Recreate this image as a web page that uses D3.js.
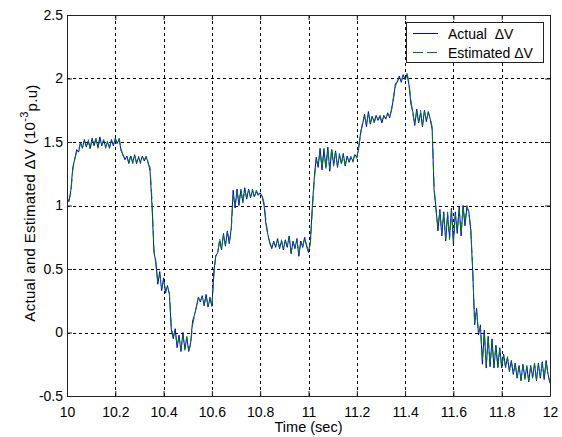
<!DOCTYPE html>
<html>
<head>
<meta charset="utf-8">
<script src="https://cdn.jsdelivr.net/npm/d3@7"></script>
<style>
  body { margin: 0; background: #fff; }
  text { font-family: "Liberation Sans", Arial, sans-serif; fill: #000; }
</style>
</head>
<body>
<div id="chart"></div>
<script>
// Sample spacing of the recorded signal (s)
const tStart = 10, tStep = 0.008;

// Actual dV (10^-3 p.u)
const actual = [
  1.06,1.03,1.12,1.30,1.36,1.44,1.42,1.50,1.45,1.52,
  1.46,1.51,1.45,1.53,1.47,1.52,1.46,1.54,1.47,1.51,
  1.46,1.50,1.45,1.52,1.47,1.53,1.49,1.52,1.43,1.40,
  1.36,1.39,1.33,1.39,1.34,1.40,1.33,1.38,1.34,1.39,
  1.35,1.38,1.34,1.27,1.00,0.63,0.56,0.38,0.48,0.33,
  0.43,0.31,0.37,0.30,0.02,-0.05,0.03,-0.12,-0.02,-0.15,
  0.00,-0.13,-0.04,-0.15,-0.08,0.09,0.14,0.20,0.28,0.24,
  0.29,0.21,0.30,0.20,0.27,0.21,0.48,0.60,0.63,0.72,
  0.65,0.78,0.68,0.80,0.70,0.82,1.12,0.98,1.13,1.00,
  1.12,1.03,1.14,1.05,1.13,1.06,1.12,1.07,1.11,1.08,
  1.10,1.07,1.00,0.85,0.77,0.70,0.66,0.72,0.67,0.74,
  0.66,0.72,0.65,0.73,0.67,0.76,0.62,0.72,0.66,0.74,
  0.60,0.72,0.67,0.75,0.68,0.63,0.72,1.00,1.22,1.38,
  1.30,1.45,1.28,1.44,1.30,1.46,1.27,1.44,1.32,1.43,
  1.30,1.40,1.33,1.41,1.31,1.39,1.34,1.38,1.35,1.40,
  1.38,1.45,1.58,1.64,1.72,1.62,1.74,1.64,1.70,1.66,
  1.71,1.67,1.70,1.65,1.71,1.68,1.73,1.69,1.76,1.84,
  1.96,1.97,2.02,1.97,2.03,1.99,2.03,1.95,1.80,1.74,
  1.63,1.76,1.65,1.73,1.62,1.75,1.66,1.74,1.68,1.60,
  1.12,0.98,0.80,0.97,0.76,0.95,0.72,0.93,0.75,0.98,
  0.70,0.95,0.78,0.99,0.76,1.00,0.84,0.99,0.95,0.80,
  0.48,0.06,0.19,-0.02,0.06,-0.25,0.02,-0.28,-0.03,-0.27,
  -0.05,-0.28,-0.10,-0.27,-0.12,-0.28,-0.17,-0.27,-0.20,-0.30,
  -0.22,-0.33,-0.24,-0.36,-0.26,-0.38,-0.25,-0.36,-0.27,-0.39,
  -0.26,-0.35,-0.25,-0.38,-0.24,-0.36,-0.23,-0.37,-0.22,-0.33,
  -0.40
];

// Estimated dV (10^-3 p.u)
const estimated = [
  1.05,1.04,1.10,1.28,1.37,1.42,1.44,1.49,1.46,1.51,
  1.47,1.52,1.44,1.52,1.48,1.53,1.45,1.52,1.48,1.52,
  1.45,1.51,1.46,1.51,1.48,1.52,1.48,1.53,1.45,1.39,
  1.37,1.38,1.34,1.40,1.33,1.39,1.34,1.39,1.33,1.38,
  1.36,1.39,1.33,1.30,1.04,0.66,0.53,0.40,0.46,0.35,
  0.41,0.33,0.36,0.31,0.05,-0.03,0.01,-0.10,-0.04,-0.13,
  -0.02,-0.14,-0.03,-0.14,-0.10,0.06,0.13,0.21,0.27,0.25,
  0.28,0.22,0.29,0.21,0.28,0.20,0.44,0.61,0.62,0.74,
  0.66,0.77,0.69,0.79,0.71,0.80,1.08,1.00,1.11,1.02,
  1.13,1.02,1.12,1.06,1.12,1.07,1.13,1.06,1.12,1.09,
  1.09,1.08,1.02,0.88,0.76,0.71,0.67,0.71,0.68,0.73,
  0.67,0.73,0.66,0.72,0.68,0.75,0.63,0.71,0.67,0.73,
  0.62,0.71,0.68,0.74,0.69,0.64,0.70,0.97,1.20,1.36,
  1.32,1.43,1.30,1.45,1.29,1.44,1.29,1.45,1.31,1.42,
  1.31,1.41,1.32,1.40,1.32,1.38,1.35,1.39,1.34,1.41,
  1.37,1.47,1.56,1.66,1.70,1.64,1.72,1.65,1.71,1.65,
  1.70,1.68,1.71,1.66,1.70,1.69,1.72,1.70,1.75,1.86,
  1.94,1.98,2.01,1.98,2.02,2.00,2.04,1.97,1.83,1.72,
  1.65,1.74,1.66,1.75,1.63,1.74,1.67,1.73,1.69,1.62,
  1.15,0.96,0.83,0.95,0.78,0.93,0.74,0.95,0.73,0.96,
  0.72,0.93,0.80,0.97,0.78,0.99,0.86,1.00,0.94,0.82,
  0.50,0.08,0.17,0.00,0.04,-0.22,0.00,-0.26,-0.05,-0.25,
  -0.07,-0.26,-0.11,-0.28,-0.13,-0.27,-0.18,-0.28,-0.19,-0.31,
  -0.23,-0.32,-0.25,-0.35,-0.27,-0.37,-0.26,-0.37,-0.26,-0.38,
  -0.27,-0.36,-0.24,-0.37,-0.25,-0.35,-0.24,-0.36,-0.23,-0.34,
  -0.39
];

const xTicks = [10, 10.2, 10.4, 10.6, 10.8, 11, 11.2, 11.4, 11.6, 11.8, 12];
const yTicks = [-0.5, 0, 0.5, 1, 1.5, 2, 2.5];
const seriesNames = ["Actual  \u0394V", "Estimated \u0394V"];

const W = 562, H = 437;
const margin = {top: 15, right: 12, bottom: 41, left: 67};
const width = W - margin.left - margin.right;
const height = H - margin.top - margin.bottom;

const svg = d3.select("#chart").append("svg")
    .attr("width", W)
    .attr("height", H);

const g = svg.append("g")
    .attr("transform", `translate(${margin.left},${margin.top})`);

const x = d3.scaleLinear().domain([10, 12]).range([0, width]);
const y = d3.scaleLinear().domain([-0.5, 2.5]).range([height, 0]);

// dotted grid
g.append("g").selectAll("line")
  .data(xTicks.slice(1, -1))
  .join("line")
    .attr("x1", d => Math.round(x(d)) + 0.5).attr("x2", d => Math.round(x(d)) + 0.5)
    .attr("y1", 0).attr("y2", height)
    .attr("stroke", "#000").attr("stroke-dasharray", "3,3");
g.append("g").selectAll("line")
  .data(yTicks.slice(1, -1))
  .join("line")
    .attr("y1", d => Math.round(y(d)) + 0.5).attr("y2", d => Math.round(y(d)) + 0.5)
    .attr("x1", 0).attr("x2", width)
    .attr("stroke", "#000").attr("stroke-dasharray", "3,3");

g.append("clipPath").attr("id", "clip")
  .append("rect").attr("width", width).attr("height", height);

const line = d3.line()
    .x((d, i) => x(tStart + i * tStep))
    .y(d => y(d));

const plot = g.append("g").attr("clip-path", "url(#clip)");
plot.append("path")
    .datum(actual)
    .attr("fill", "none")
    .attr("stroke", "#0000ff")
    .attr("stroke-width", 1)
    .attr("d", line);
plot.append("path")
    .datum(estimated)
    .attr("fill", "none")
    .attr("stroke", "#008000")
    .attr("stroke-width", 1)
    .attr("stroke-dasharray", "10,4")
    .attr("d", line);

// axes with inward ticks, MATLAB style
const fmt = d => String(d);
const xAxis = g.append("g")
    .attr("transform", `translate(0,${height})`)
    .call(d3.axisBottom(x).tickValues(xTicks).tickFormat(fmt)
      .tickSizeInner(-5).tickSizeOuter(0).tickPadding(11));
const yAxis = g.append("g")
    .call(d3.axisLeft(y).tickValues(yTicks).tickFormat(fmt)
      .tickSizeInner(-5).tickSizeOuter(0).tickPadding(4));
const xTop = g.append("g")
    .call(d3.axisTop(x).tickValues(xTicks).tickFormat("")
      .tickSizeInner(-5).tickSizeOuter(0));
const yRight = g.append("g")
    .attr("transform", `translate(${width},0)`)
    .call(d3.axisRight(y).tickValues(yTicks).tickFormat("")
      .tickSizeInner(-5).tickSizeOuter(0));

[xAxis, yAxis, xTop, yRight].forEach(a => {
  a.selectAll("path,line").attr("stroke", "#222");
  a.selectAll("text").attr("font-size", 14).attr("fill", "#111")
    .style("font-family", "'Liberation Sans', Arial, sans-serif");
});

// axis labels
svg.append("text")
    .attr("x", margin.left + width / 2)
    .attr("y", 432)
    .attr("text-anchor", "middle")
    .attr("font-size", 14.5)
    .attr("fill", "#111")
    .text("Time (sec)");

const yl = svg.append("text")
    .attr("transform", "translate(35,203) rotate(-90)")
    .attr("text-anchor", "middle")
    .attr("font-size", 15)
    .attr("letter-spacing", 0.3)
    .attr("fill", "#111");
yl.append("tspan").text("Actual and Estimated \u0394V (10");
yl.append("tspan").attr("font-size", 11).attr("dy", -7).text("-3");
yl.append("tspan").attr("dy", 9).text("p.u)");

// legend
const leg = svg.append("g");
leg.append("rect")
    .attr("x", 406.5).attr("y", 22.5)
    .attr("width", 137).attr("height", 40)
    .attr("fill", "#fff").attr("stroke", "#222");
const legRows = [
  {name: seriesNames[0], color: "#0000ff", dash: null, y: 33.5},
  {name: seriesNames[1], color: "#008000", dash: "10,4", y: 52.5}
];
legRows.forEach(r => {
  leg.append("line")
      .attr("x1", 413).attr("x2", 438)
      .attr("y1", r.y).attr("y2", r.y)
      .attr("stroke", r.color)
      .attr("stroke-dasharray", r.dash);
  leg.append("text")
      .attr("x", 448).attr("y", r.y)
      .attr("dy", "0.36em")
      .attr("font-size", 14)
      .attr("fill", "#111")
      .style("white-space", "pre")
      .text(r.name);
});
</script>
</body>
</html>
